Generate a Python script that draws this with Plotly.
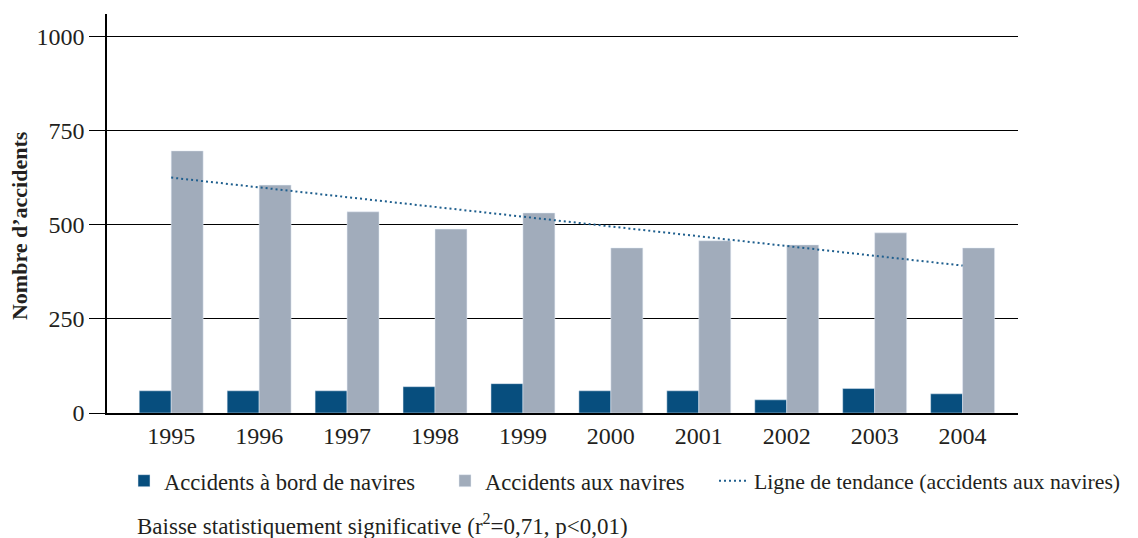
import plotly.graph_objects as go

annees = ["1995", "1996", "1997", "1998", "1999", "2000", "2001", "2002", "2003", "2004"]
accidents_bord = [59, 59, 59, 70, 78, 59, 59, 35, 65, 51]
accidents_navires = [697, 606, 535, 489, 532, 439, 458, 447, 479, 439]
tendance_annees = ["1995", "2004"]
tendance_valeurs = [626, 392]
y_ticks = [0, 250, 500, 750, 1000]

SERIF = "Liberation Serif"
TEXTE = "#231f20"


def legende(x, taille=22.6):
    return dict(
        orientation="h",
        x=x,
        xanchor="left",
        y=-0.1704,
        yanchor="middle",
        font=dict(family=SERIF, size=taille, color=TEXTE),
        bgcolor="rgba(0,0,0,0)",
        borderwidth=0,
    )


fig = go.Figure()
fig.add_bar(
    x=annees,
    y=accidents_bord,
    name="Accidents à bord de navires",
    marker_color="#074e7e",
    legend="legend",
)
fig.add_bar(
    x=annees,
    y=accidents_navires,
    name="Accidents aux navires",
    marker_color="#a1acbb",
    legend="legend2",
)
fig.add_scatter(
    x=tendance_annees,
    y=tendance_valeurs,
    mode="lines",
    name="Ligne de tendance (accidents aux navires)",
    line=dict(color="#1f5f8e", width=2, dash="2px,3px"),
    legend="legend3",
)

# la page a une marge de 8 px : la figure est décalée d'autant
fig.update_layout(
    width=1130,
    height=530,
    margin=dict(l=99, r=120, t=6, b=125, autoexpand=False),
    plot_bgcolor="white",
    paper_bgcolor="white",
    barmode="group",
    bargap=0.273,
    bargroupgap=0,
    font=dict(family=SERIF, size=24, color=TEXTE),
    showlegend=True,
    legend=legende((116 - 99) / 911),
    legend2=legende((437 - 99) / 911),
    legend3=legende((706 - 99) / 911, 21.8),
    annotations=[
        dict(
            text="<b>Nombre d’accidents</b>",
            textangle=-90,
            xref="paper",
            yref="paper",
            x=-0.0966,
            y=0.471,
            xanchor="center",
            yanchor="middle",
            showarrow=False,
            font=dict(family=SERIF, size=22, color=TEXTE),
        ),
        dict(
            text="Baisse statistiquement significative (r<sup>2</sup>=0,71, p<0,01)",
            xref="paper",
            yref="paper",
            x=(135 - 107) / 911,
            y=(413 - 524) / 399,
            xanchor="left",
            yanchor="middle",
            showarrow=False,
            font=dict(family=SERIF, size=23, color=TEXTE),
        ),
    ],
)
fig.update_xaxes(
    type="category",
    range=[-0.73, 9.63],
    showline=True,
    linecolor="black",
    linewidth=2,
    ticks="",
    showgrid=False,
    tickfont=dict(size=24),
)
fig.update_yaxes(
    range=[0, 1061],
    tickvals=y_ticks,
    showline=True,
    linecolor="black",
    linewidth=1.5,
    showgrid=True,
    gridcolor="black",
    gridwidth=1,
    zeroline=False,
    ticks="outside",
    ticklen=16,
    tickcolor="black",
    tickwidth=1,
    tickfont=dict(size=24),
)

fig.write_html("out.html")
